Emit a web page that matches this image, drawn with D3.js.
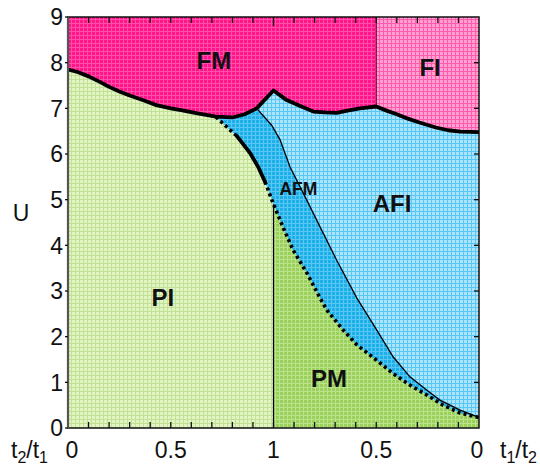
<!DOCTYPE html>
<html><head><meta charset="utf-8">
<script src="https://cdn.jsdelivr.net/npm/d3@7"></script>
<style>body{margin:0;background:#fff}</style>
</head><body>
<svg id="chart" width="540" height="466"></svg>
<script>
// ---- data ----
// Lower boundary of the ferromagnetic phases (thick solid line)
const fmLower = [[0,7.85],[0.05,7.79],[0.1,7.70],[0.15,7.59],[0.2,7.47],[0.25,7.37],[0.3,7.28],[0.37,7.17],[0.43,7.07],[0.5,7.0],[0.55,6.96],[0.63,6.89],[0.72,6.82],[0.8,6.80],[0.86,6.87],[0.918,7.0],[1.0,7.39],[1.064,7.18],[1.13,7.05],[1.194,6.93],[1.25,6.91],[1.307,6.90],[1.36,6.95],[1.421,7.0],[1.5,7.04],[1.55,6.95],[1.6,6.87],[1.65,6.78],[1.71,6.69],[1.79,6.58],[1.85,6.52],[1.91,6.49],[2.0,6.48]];
// PI/AFM and PM/AFM boundary
const afmLeftDotA = [[0.72,6.81],[0.822,6.39]];
const afmLeftSolid = [[0.822,6.39],[0.886,6.02],[0.925,5.72],[0.959,5.39]];
const afmLeftDotB = [[0.959,5.39],[1.0,4.90],[1.046,4.40],[1.095,3.90],[1.163,3.39],[1.226,2.85],[1.26,2.58],[1.338,2.15],[1.406,1.82],[1.50,1.49],[1.58,1.20],[1.664,0.94],[1.747,0.72],[1.825,0.50],[1.908,0.33],[1.99,0.24],[2.0,0.23]];
// AFM/AFI boundary (thin line)
const afmRight = [[0.918,7.0],[0.991,6.63],[1.032,6.31],[1.080,5.72],[1.162,4.99],[1.226,4.41],[1.307,3.68],[1.405,2.85],[1.502,2.15],[1.582,1.56],[1.664,1.12],[1.745,0.83],[1.81,0.61],[1.908,0.39],[1.99,0.25],[2.0,0.24]];
const piPmX = 1, piPmTop = 4.9;   // PI/PM vertical boundary
const fmFiX = 1.5;                // FM/FI vertical boundary
const yTicks = [0,1,2,3,4,5,6,7,8,9];
const xTickValues = [0,0.5,1,1.5,2];
const xTickLabels = ["0","0.5","1","0.5","0"];
const xMinorTicks = [0.1,0.2,0.3,0.4,0.5,0.6,0.7,0.8,0.9,1.0,1.1,1.2,1.3,1.4,1.5,1.6,1.7,1.8,1.9];
const regionNames = ["FM","FI","AFI","AFM","PI","PM"];
const regionLabelX = [0.71,1.762,1.577,1.121,0.462,1.27];
const regionLabelY = [8.04,7.89,4.93,5.23,2.87,1.08];

// ---- drawing ----
const svg = d3.select("#chart");
const font = "'Liberation Sans', Arial, sans-serif";
const x = d3.scaleLinear().domain([0,2]).range([68,479]);
const y = d3.scaleLinear().domain([0,9]).range([428,17]);
const line = d3.line().x(d=>x(d[0])).y(d=>y(d[1]));

const pats = {
  AFI:["#ade4fb","#55c8f4"],
  AFM:["#1cafea","#58c7f2"],
  PI:["#e2f3c6","#c0e292"],
  PM:["#9bd05c","#bbe38c"],
  FM:["#ff148a","#ff4fa8"],
  FI:["#ffa2d1","#ff5aad"]
};
const defs = svg.append("defs");
Object.entries(pats).forEach(([k,[base,ln]])=>{
  const p = defs.append("pattern").attr("id","p"+k).attr("patternUnits","userSpaceOnUse")
    .attr("width",4).attr("height",4);
  p.append("rect").attr("width",4).attr("height",4).attr("fill",base);
  p.append("rect").attr("x",3).attr("width",1).attr("height",4).attr("fill",ln);
  p.append("rect").attr("y",3).attr("width",4).attr("height",1).attr("fill",ln);
});

const afmLeft = afmLeftDotA.concat(afmLeftSolid.slice(1), afmLeftDotB.slice(1));

// AFI background
svg.append("path").attr("fill","url(#pAFI)")
  .attr("d", line([[0,0],[2,0],[2,9],[0,9]])+"Z");
// AFM
svg.append("path").attr("fill","url(#pAFM)")
  .attr("d", line(afmRight.concat([[2,0],[0,0],[0,9],[0.918,9]]))+"Z");
// PI
const piPoly = [[0,0],[piPmX,0],[piPmX,piPmTop]]
  .concat(afmLeft.filter(d=>d[0]<piPmX).reverse())
  .concat(fmLower.filter(d=>d[0]<0.72).reverse());
svg.append("path").attr("fill","url(#pPI)").attr("d", line(piPoly)+"Z");
// PM
const pmPoly = [[piPmX,0],[2,0]].concat(afmLeft.filter(d=>d[0]>=piPmX).reverse());
svg.append("path").attr("fill","url(#pPM)").attr("d", line(pmPoly)+"Z");
// FM
const fmPoly = [[0,9],[fmFiX,9]].concat(fmLower.filter(d=>d[0]<=fmFiX).reverse());
svg.append("path").attr("fill","url(#pFM)").attr("d", line(fmPoly)+"Z");
// FI
const fiPoly = [[fmFiX,9],[2,9]].concat(fmLower.filter(d=>d[0]>=fmFiX).reverse());
svg.append("path").attr("fill","url(#pFI)").attr("d", line(fiPoly)+"Z");

// boundaries
svg.append("path").attr("d", line([[piPmX,0],[piPmX,piPmTop]])).attr("stroke","#000").attr("stroke-width",1.2).attr("fill","none");
svg.append("path").attr("d", line([[fmFiX,9],[fmFiX,7.04]])).attr("stroke","#7a0035").attr("stroke-width",1.2).attr("fill","none");
svg.append("path").attr("d", line(afmRight)).attr("stroke","#000").attr("stroke-width",1.3).attr("fill","none");
svg.append("path").attr("d", line(fmLower)).attr("stroke","#000").attr("stroke-width",3.8).attr("fill","none").attr("stroke-linejoin","round");
svg.append("path").attr("d", line(afmLeftSolid)).attr("stroke","#000").attr("stroke-width",3.8).attr("fill","none").attr("stroke-linecap","round");
[afmLeftDotA, afmLeftDotB].forEach(seg=>{
  svg.append("path").attr("d", line(seg)).attr("stroke","#000").attr("stroke-width",3.6)
    .attr("stroke-dasharray","3,3.2").attr("fill","none");
});

// frame
svg.append("rect").attr("x",x(0)).attr("y",y(9)).attr("width",x(2)-x(0)).attr("height",y(0)-y(9))
  .attr("fill","none").attr("stroke","#111").attr("stroke-width",1.5);
svg.append("line").attr("x1",x(0)).attr("x2",x(0)).attr("y1",y(0)).attr("y2",y(9))
  .attr("stroke","#555").attr("stroke-width",2.2);

// ticks
const g = svg.append("g").attr("stroke","#111").attr("stroke-width",1.3);
xMinorTicks.forEach(v=>{
  const L = (v===1.0)?9:6;
  g.append("line").attr("x1",x(v)).attr("x2",x(v)).attr("y1",y(9)).attr("y2",y(9)+L);
  g.append("line").attr("x1",x(v)).attr("x2",x(v)).attr("y1",y(0)).attr("y2",y(0)-6);
});
yTicks.forEach(v=>{
  if(v>0 && v<9){
    g.append("line").attr("x1",x(2)).attr("x2",x(2)-5).attr("y1",y(v)).attr("y2",y(v));
  }
  g.append("line").attr("x1",x(0)).attr("x2",x(0)-3).attr("y1",y(v)).attr("y2",y(v));
});

// tick labels
svg.append("g").selectAll("text").data(yTicks).join("text")
  .attr("x",63).attr("y",d=>y(d)).attr("dy","0.36em").attr("text-anchor","end")
  .attr("font-family",font).attr("font-size",23).attr("fill","#111").text(d=>d);
svg.append("g").selectAll("text").data(xTickValues).join("text")
  .attr("x",(d,i)=>x(d)+(i===0?4:(i===4?-2:0))).attr("y",458).attr("text-anchor","middle")
  .attr("font-family",font).attr("font-size",23).attr("fill","#111").text((d,i)=>xTickLabels[i]);

// axis titles
svg.append("text").attr("x",21).attr("y",y(4.72)).attr("dy","0.36em").attr("text-anchor","middle")
  .attr("font-family",font).attr("font-size",23).attr("fill","#111").text("U");
function ratio(xp, a, b){
  const t = svg.append("text").attr("x",xp).attr("y",458).attr("font-family",font).attr("font-size",23).attr("fill","#111");
  t.append("tspan").text("t");
  t.append("tspan").attr("font-size",16).attr("dy",5).text(a);
  t.append("tspan").attr("dy",-5).text("/t");
  t.append("tspan").attr("font-size",16).attr("dy",5).text(b);
}
ratio(11,"2","1");
ratio(500,"1","2");

// region labels
svg.append("g").selectAll("text").data(regionNames).join("text")
  .attr("x",(d,i)=>x(regionLabelX[i])).attr("y",(d,i)=>y(regionLabelY[i])).attr("dy","0.36em")
  .attr("text-anchor","middle").attr("font-family",font).attr("font-weight","bold")
  .attr("font-size",d=>d==="AFM"?17.5:24).attr("fill","#111").text(d=>d);
</script>
</body></html>
